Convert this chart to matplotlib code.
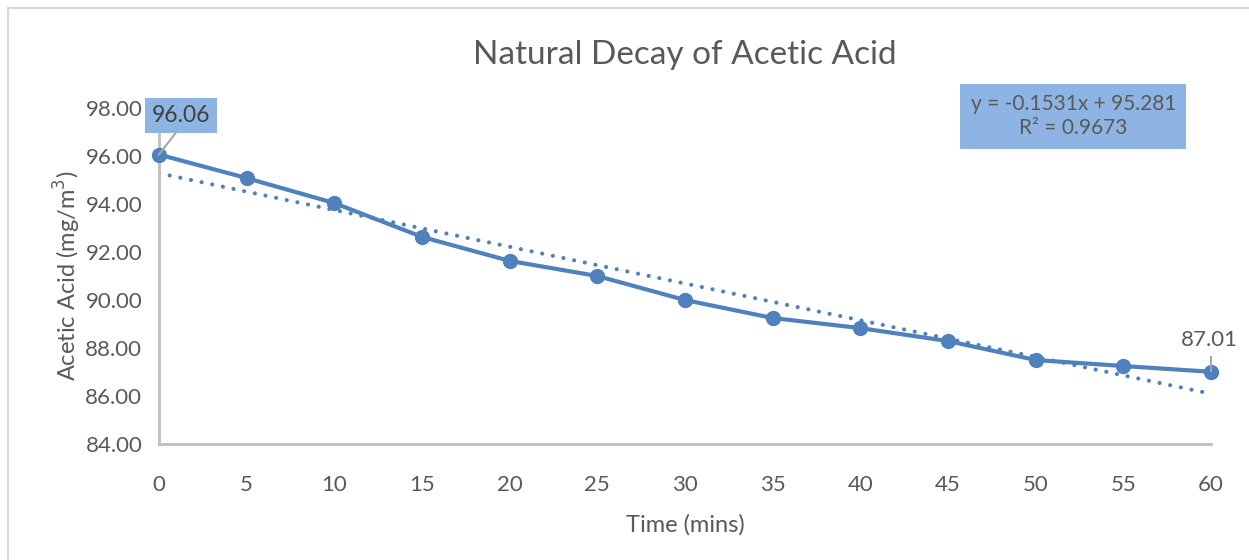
import numpy as np
import matplotlib.pyplot as plt
from matplotlib.patches import Rectangle

plt.rcParams['font.family'] = ['Lato', 'DejaVu Sans']

time_mins = [0, 5, 10, 15, 20, 25, 30, 35, 40, 45, 50, 55, 60]
acetic = [96.06, 95.08, 94.04, 92.63, 91.63, 91.00, 90.00, 89.25, 88.83, 88.29, 87.50, 87.25, 87.01]
slope = -0.1531
intercept = 95.281
r2 = 0.9673
y_ticks = [84, 86, 88, 90, 92, 94, 96, 98]
x_ticks = list(range(0, 61, 5))

blue = '#4F81BD'
box_blue = '#8EB4E3'
txt = '#595959'

fig = plt.figure(figsize=(12.49, 5.6), dpi=100)
# chart area border (runs off the right and bottom edges like the original)
fig.patches.append(Rectangle((8 / 1249, -0.05), 1.2, 1.05 - 8 / 560, transform=fig.transFigure,
                             fill=False, edgecolor='#D9D9D9', linewidth=1.5))
ax = fig.add_axes([0.1273, 0.2071, 0.8423, 0.6])

# linear trendline
tx = np.array([time_mins[0], time_mins[-1]])
ax.plot(tx, slope * tx + intercept, linestyle=(0, (0.01, 2.6)), color=blue,
        linewidth=3, dash_capstyle='round', zorder=2)
ax.plot(time_mins, acetic, color=blue, linewidth=3, marker='o', markersize=10,
        zorder=3, clip_on=False)

ax.set_xlim(0, 60)
ax.set_ylim(84, 98)
ax.set_xticks(x_ticks)
ax.set_yticks(y_ticks)
ax.set_yticklabels([f'{v:.2f}' for v in y_ticks])
ax.tick_params(length=0, labelsize=16, colors=txt)
ax.tick_params(axis='y', pad=12)
ax.tick_params(axis='x', pad=22)
for s in ['top', 'right']:
    ax.spines[s].set_visible(False)
for s in ['left', 'bottom']:
    ax.spines[s].set_color('#BFBFBF')
    ax.spines[s].set_linewidth(2)

ax.set_title('Natural Decay of Acetic Acid', fontsize=24, color=txt, pad=32)
ax.set_xlabel('Time (mins)', fontsize=17, color=txt, labelpad=14)
ax.set_ylabel('Acetic Acid (mg/m$^3$)', fontsize=17, color=txt, labelpad=2)

# data labels
ax.plot([time_mins[0], 1.2], [acetic[0], 97.2], color='#A6A6A6', linewidth=1.5,
        zorder=4, clip_on=False)
ax.text(1.25, 97.69, f'{acetic[0]:.2f}', fontsize=16.5, color='#404040',
        ha='center', va='center', zorder=5,
        bbox=dict(boxstyle='square,pad=0.3', fc=box_blue, ec='none'))
ax.plot([time_mins[-1], time_mins[-1]], [acetic[-1] + 0.05, acetic[-1] + 0.6],
        color='#A6A6A6', linewidth=1.5, zorder=4, clip_on=False)
ax.text(time_mins[-1] - 0.1, 88.33, f'{acetic[-1]:.2f}', fontsize=16, color=txt,
        ha='center', va='center')

# trendline equation
ax.text(0.869, 0.976, f'y = {slope}x + {intercept}\nR² = {r2}', transform=ax.transAxes,
        fontsize=15, color=txt, ha='center', va='center', linespacing=1.25,
        bbox=dict(boxstyle='square,pad=0.5', fc=box_blue, ec='none'))

fig.savefig('out.png', dpi=100)
